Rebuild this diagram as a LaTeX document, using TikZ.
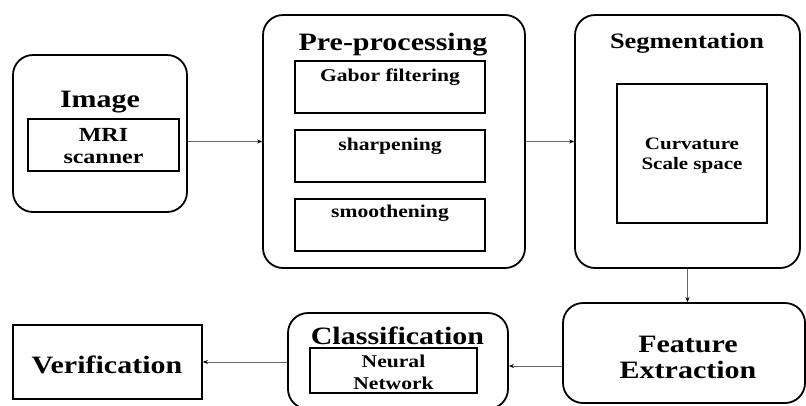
\documentclass[tikz,border=0pt]{standalone}
\usepackage{fontspec}
\setmainfont[FakeStretch=1.2]{Liberation Serif}
\usetikzlibrary{arrows.meta}
\tikzset{
  outerbox/.style={draw, rounded corners=20pt, line width=1.8pt, inner sep=0pt},
  innerbox/.style={draw, line width=1.7pt, inner sep=0pt},
  conn/.style={draw=black!60, line width=0.9pt, -{Stealth[length=5pt,width=4pt,black]}},
  big/.style={font=\fontsize{25}{28}\selectfont\bfseries, inner sep=0pt},
  small/.style={font=\fontsize{18}{22}\selectfont\bfseries, inner sep=0pt, align=center},
}
\begin{document}
\begin{tikzpicture}[x=1pt,y=-1pt]
\useasboundingbox (0,0) rectangle (806,405);
% Image
\node[outerbox, minimum width=174pt, minimum height=157pt] (img) at (100,133.5) {};
\node[big] (imgt) at (100,102) {Image};
\node[innerbox, minimum width=151pt, minimum height=52pt] (imgin) at (103.5,145) {};
\node[small, font=\fontsize{20}{22}\selectfont\bfseries] (imgtx) at (103.5,146.5) {MRI\\scanner};
% Pre-processing
\node[outerbox, minimum width=262pt, minimum height=253pt] (pre) at (394,141.5) {};
\node[big] (pret) at (393,45) {Pre-processing};
\node[innerbox, minimum width=190pt, minimum height=52pt] (g1) at (390,87) {};
\node[innerbox, minimum width=190pt, minimum height=52pt] (g2) at (390,156) {};
\node[innerbox, minimum width=190pt, minimum height=52pt] (g3) at (390,225) {};
\node[small] (g1t) at (390,77) {Gabor filtering};
\node[small] (g2t) at (390,146) {sharpening};
\node[small] (g3t) at (390,213) {smoothening};
% Segmentation
\node[outerbox, minimum width=225pt, minimum height=253pt] (seg) at (687.5,141.5) {};
\node[big, font=\fontsize{22}{26}\selectfont\bfseries] (segt) at (687,43) {Segmentation};
\node[innerbox, minimum width=150pt, minimum height=139pt] (csin) at (692,153.5) {};
\node[small, font=\fontsize{17.5}{20}\selectfont\bfseries] (cst) at (692,156) {Curvature\\Scale space};
% Feature Extraction
\node[outerbox, minimum width=242pt, minimum height=100pt] (feat) at (684,353) {};
\node[big, align=center, font=\fontsize{25}{26}\selectfont\bfseries] (featt) at (688,357) {Feature\\Extraction};
% Classification
\node[outerbox, minimum width=220pt, minimum height=96pt] (cls) at (398,361) {};
\node[big, font=\fontsize{25}{28}\selectfont\bfseries] (clst) at (397.5,336) {Classification};
\node[innerbox, minimum width=167pt, minimum height=45pt] (nn) at (393.5,370.5) {};
\node[small] (nnt) at (393.5,372) {Neural\\Network};
% Verification
\node[innerbox, minimum width=189pt, minimum height=74pt] (ver) at (107.5,362) {};
\node[big] (vert) at (107,365) {Verification};
% connectors
\draw[conn] (img.east |- pre.west) -- (pre.west);
\draw[conn] (pre.east) -- (seg.west);
\draw[conn] (seg.south) -- (seg.south |- feat.north);
\coordinate (fx) at ([yshift=-13pt]feat.west);
\draw[conn] (fx) -- (cls.east |- fx);
\draw[conn] (cls.west |- ver.east) -- (ver.east);
\end{tikzpicture}
\end{document}
